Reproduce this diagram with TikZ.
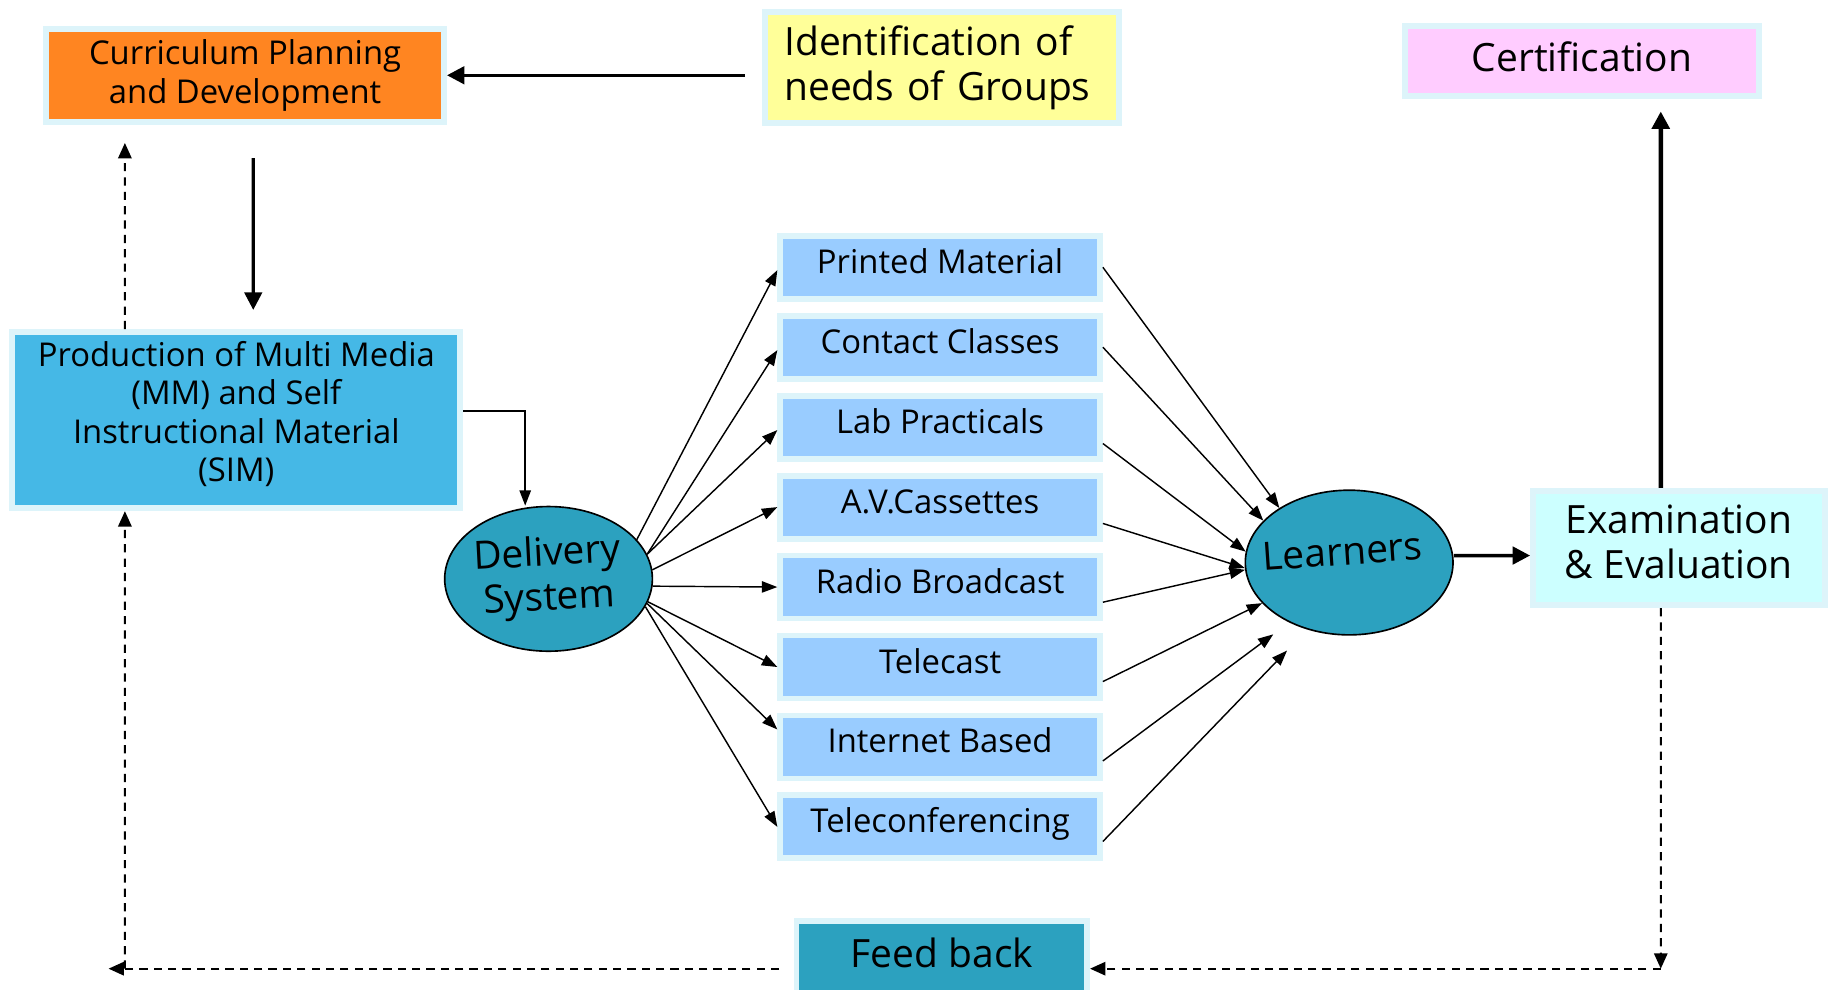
\documentclass[tikz,border=0pt]{standalone}
\usepackage{fontspec}
\setmainfont{Open Sans}
\usepackage{xcolor}
\usepackage{tikz}
\usetikzlibrary{shapes,arrows.meta,positioning,calc}

\definecolor{orangebox}{HTML}{FF8521}
\definecolor{yellowbox}{HTML}{FFFF99}
\definecolor{pinkbox}{HTML}{FFCCFF}
\definecolor{prodblue}{HTML}{45B8E6}
\definecolor{mediablue}{HTML}{99CCFF}
\definecolor{tealfill}{HTML}{2CA1BF}
\definecolor{examcyan}{HTML}{CCFFFF}
\definecolor{glow}{HTML}{DDF4FA}

\newcommand{\txtsmall}{\fontsize{16}{18.8}\selectfont}
\newcommand{\txtlarge}{\fontsize{19}{21.6}\selectfont}

\begin{document}
\begin{tikzpicture}[x=0.02cm,y=-0.02cm,
	box/.style={rectangle,draw=glow,line width=0.1cm,inner sep=0pt,align=center,font=\txtsmall},
	oval/.style={ellipse,draw=black,line width=0.8pt,fill=tealfill,inner sep=0pt,minimum width=3.56cm,minimum height=2.48cm},
	link/.style={line width=0.7pt,-{Triangle[length=7.5pt,width=5.5pt]}},
	bold/.style={line width=1.7pt,-{Triangle[length=8.5pt,width=8.5pt]}},
	back/.style={line width=1pt,dash pattern=on 4pt off 3pt,-{Triangle[length=7.5pt,width=6.5pt]}}]
	\useasboundingbox (0,0) rectangle (1568,848);
	% boxes
	\node[box,fill=orangebox,minimum width=6.82cm,minimum height=1.6cm] (curr) at (210,64.5) {Curriculum Planning\\and Development};
	\node[box,fill=yellowbox,minimum width=6.06cm,minimum height=1.9cm,text width=5.4cm,align=left,font=\txtlarge] (ident) at (807,58) {Identification of\\needs of Groups};
	\node[box,fill=pinkbox,minimum width=6.08cm,minimum height=1.2cm,text depth=5pt,font=\txtlarge] (cert) at (1355.5,52.5) {Certification};
	\node[box,fill=prodblue,minimum width=7.68cm,minimum height=3.02cm,text depth=8.5pt] (prod) at (202.5,360) {Production of Multi Media\\(MM) and Self\\Instructional Material\\(SIM)};
	\node[oval,label={[rotate=3,align=center,font=\txtlarge,yshift=0.02cm]center:Delivery\\System}] (deliv) at (470,496) {};
	\node[oval,label={[rotate=4,font=\txtlarge,yshift=0.2cm,xshift=-0.1cm]center:Learners}] (learn) at (1156,482) {};
	\node[box,fill=examcyan,minimum width=5cm,minimum height=1.96cm,text depth=6pt,font=\txtlarge] (exam) at (1438.5,469.5) {Examination\\\& Evaluation};
	\node[box,fill=tealfill,minimum width=4.98cm,minimum height=1.4cm,text depth=9pt,font=\txtlarge] (feed) at (807,824) {Feed back};
	% media
	\foreach \i/\m/\t in {0/pm/Printed Material,1/cc/Contact Classes,2/lp/Lab Practicals,3/av/A.V.Cassettes,4/rb/Radio Broadcast,5/tc/Telecast,6/ib/Internet Based,7/tf/Teleconferencing}
		\node[box,fill=mediablue,minimum width=5.48cm,minimum height=1.08cm,text height=12pt,text depth=6.1pt] (\m) at (805.5,{229+68.5*\i}) {\t};
	\coordinate (fbl) at (93,830);
	\coordinate (fbr) at (1423,830);
	% arrows
	\draw[bold,shorten <=0.29cm] (ident.west |- curr.east) -- (curr.east);
	\draw[bold,line width=1.5pt,shorten <=0.57cm,shorten >=0.33cm] ([xshift=0.14cm]curr.south) -- ([xshift=0.29cm]prod.north);
	\draw[back,shorten >=0.31cm] ([xshift=-1.91cm]prod.north) -- ([xshift=-2.06cm]curr.south);
	\draw[link,line width=1pt] ([yshift=0.16cm]prod.east) -| ([xshift=-0.4cm]deliv.north);
	\foreach \m/\a/\s in {pm/24/-0.05,cc/14/-0.05,lp/14/-0.05,av/5/0,rb/356/0,tc/347/0,ib/346/0.3,tf/344/0}
		\draw[link] (deliv.\a) -- ([yshift=\s cm]\m.west);
	\foreach \m/\s/\a/\g in {pm/0/142/0,cc/0/154/0,lp/-0.28/174/0,av/-0.28/183/0,rb/-0.26/184/0,tc/-0.25/205/0,ib/-0.24/225/0.34,tf/-0.25/238/0.5}
		\draw[link,shorten >=\g cm] ([yshift=\s cm]\m.east) -- (learn.\a);
	\draw[bold] ([yshift=0.12cm]learn.east) -- ([yshift=-0.13cm]exam.west);
	\draw[bold,line width=2.2pt,shorten >=0.21cm] ([xshift=-0.31cm]exam.north) -- ([xshift=1.35cm]cert.south);
	\draw[back] ([xshift=-0.31cm]exam.south) -- (fbr);
	\draw[back] (fbr) -- (feed.east |- fbr);
	\draw[back,shorten <=0.25cm] (feed.west |- fbl) -- (fbl);
	\draw[back] ([xshift=0.28cm]fbl) -- ([xshift=-1.91cm]prod.south);
\end{tikzpicture}
\end{document}
